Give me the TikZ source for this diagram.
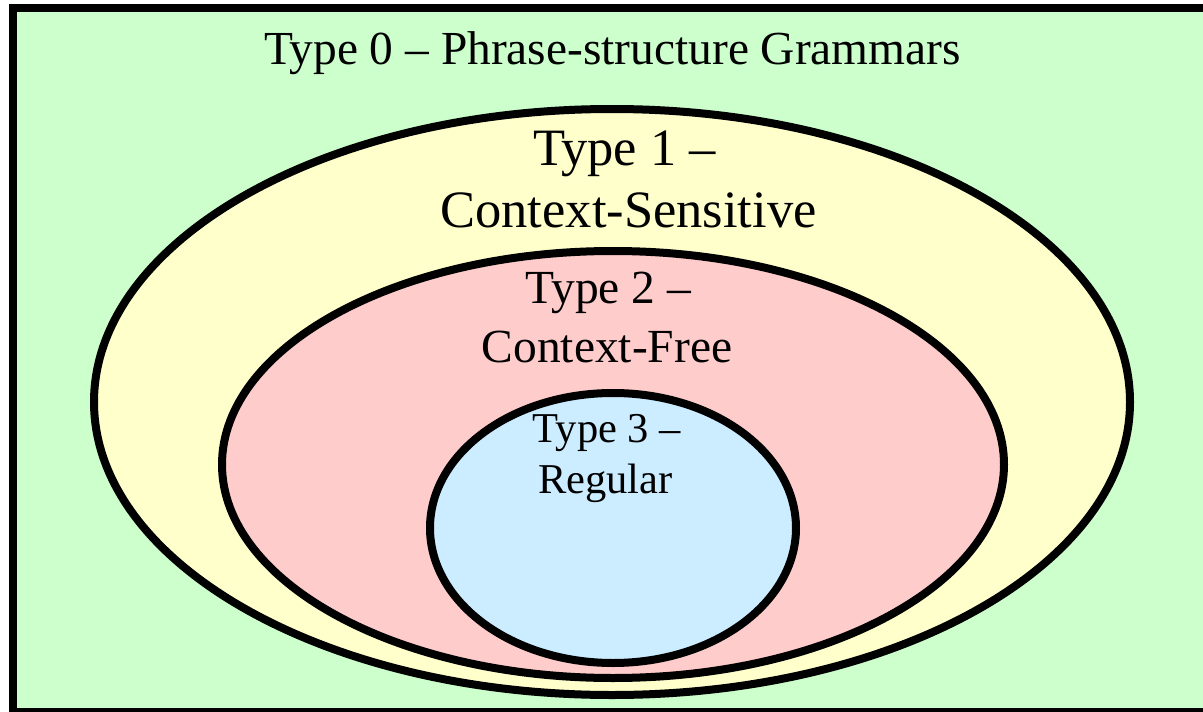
\documentclass[tikz,border=0pt]{standalone}
\usepackage{fontspec}
\setmainfont{Liberation Serif}
\definecolor{grZero}{RGB}{204,255,204}
\definecolor{grOne}{RGB}{255,255,204}
\definecolor{grTwo}{RGB}{255,204,204}
\definecolor{grThree}{RGB}{204,236,255}
\tikzset{
  region/.style={draw=black, line width=8pt},
  lbl/.style={anchor=base, inner sep=0pt, text=black},
}
\newcommand{\fsz}[1]{\fontsize{#1}{#1}\selectfont}
\begin{document}
\begin{tikzpicture}[x=1pt, y=-1pt]
  \useasboundingbox (0,0) rectangle (1203,712);
  \clip (0,0) rectangle (1203,712);
  \fill[white] (0,0) rectangle (1203,712);
  % Chomsky hierarchy as nested regions
  \filldraw[region, fill=grZero] (13,8) rectangle (1225,712);
  \filldraw[region, fill=grOne] (612,402) ellipse [x radius=518, y radius=293];
  \filldraw[region, fill=grTwo] (613,464.5) ellipse [x radius=391, y radius=213.5];
  \filldraw[region, fill=grThree] (613,528) ellipse [x radius=183, y radius=135];
  % labels
  \node[lbl] (t0) at (612.5,64) {\fsz{47.4}Type 0 -- Phrase-structure Grammars};
  \node[lbl] (t1a) at (624.5,165) {\fsz{52.5}Type 1 --};
  \node[lbl] (t1b) at (628.5,227) {\fsz{52.5}Context-Sensitive};
  \node[lbl] (t2a) at (608.5,303) {\fsz{47.5}Type 2 --};
  \node[lbl] (t2b) at (607,362) {\fsz{47.5}Context-Free};
  \node[lbl] (t3a) at (607,442) {\fsz{42.5}Type 3 --};
  \node[lbl] (t3b) at (605.5,493) {\fsz{42.5}Regular};
\end{tikzpicture}
\end{document}
